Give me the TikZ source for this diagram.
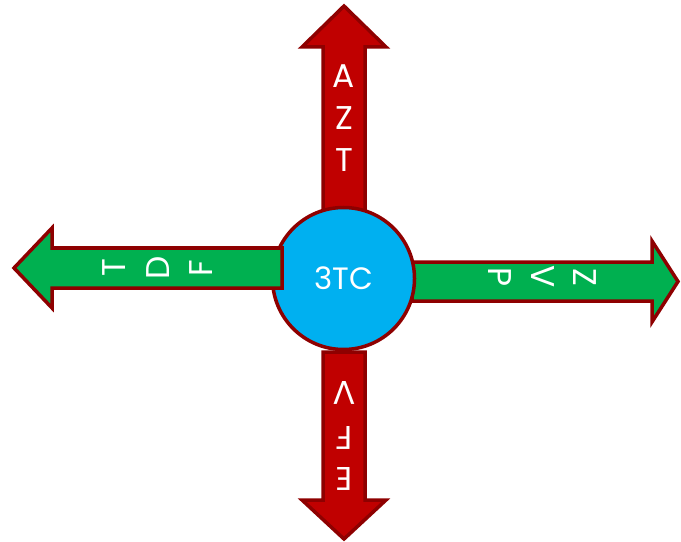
\documentclass[tikz,border=0pt]{standalone}
\usepackage{fontspec}
\setmainfont{Poppins}
\definecolor{arrred}{HTML}{C00000}
\definecolor{arrgreen}{HTML}{00B050}
\definecolor{hubblue}{HTML}{00B0F0}
\definecolor{edgered}{HTML}{8E0000}
\begin{document}
\begin{tikzpicture}[x=1bp,y=-1bp,
  arrowshape/.style={draw=edgered,line width=3.5bp,line join=miter},
  letter/.style={text=white,font=\fontsize{33}{33}\selectfont,inner sep=0pt,anchor=center},
  hublabel/.style={text=white,font=\fontsize{31}{31}\selectfont,inner sep=0pt,anchor=center}]
\useasboundingbox (0,0) rectangle (681,542);
% up arrow
\draw[arrowshape,fill=arrred] (323,215) -- (323,47) -- (302,47) -- (344,6) -- (386,47) -- (365,47) -- (365,215) -- cycle;
% down arrow
\draw[arrowshape,fill=arrred] (323,352) -- (365,352) -- (365,500) -- (386,500) -- (344,539) -- (302,500) -- (323,500) -- cycle;
% right arrow
\draw[arrowshape,fill=arrgreen] (412,262) -- (652,262) -- (652,241) -- (678,281.5) -- (652,322) -- (652,301) -- (412,301) -- cycle;
% hub
\node[circle,draw=edgered,line width=3.5bp,fill=hubblue,minimum size=142bp,inner sep=0pt] (hub) at (343.5,278.5) {};
\node[hublabel] (hubtext) at (hub.center) {3TC};
% left arrow
\draw[arrowshape,fill=arrgreen] (282,248) -- (52,248) -- (52,228) -- (14,268) -- (52,308) -- (52,288) -- (282,288) -- cycle;
% labels up
\node[letter] (ua) at (344,76) {A};
\node[letter] (uz) at (344,118) {Z};
\node[letter] (ut) at (344,160) {T};
% labels down
\node[letter,rotate=180] (dv) at (344,393) {V};
\node[letter,rotate=180] (df) at (344,438) {F};
\node[letter,rotate=180] (de) at (344,479) {E};
% labels left
\node[letter,rotate=90] (lt) at (114,268) {T};
\node[letter,rotate=90] (ld) at (158,268) {D};
\node[letter,rotate=90] (lf) at (201,268) {F};
% labels right
\node[letter,rotate=-90] (rp) at (500,277) {P};
\node[letter,rotate=-90] (rv) at (543,277) {V};
\node[letter,rotate=-90] (rz) at (585,277) {Z};
\end{tikzpicture}
\end{document}
